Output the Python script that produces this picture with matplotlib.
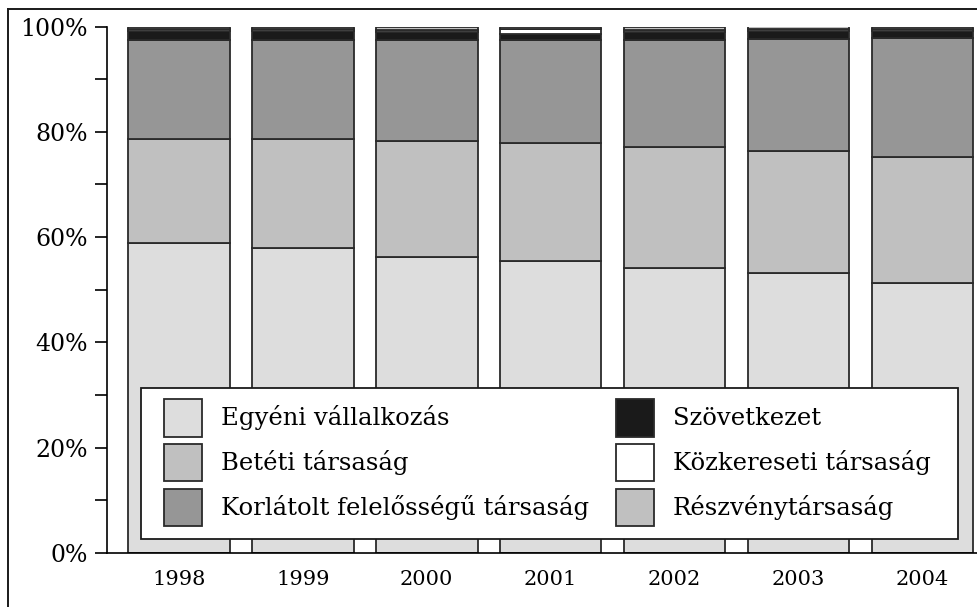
import matplotlib.pyplot as plt
from matplotlib.lines import Line2D
from matplotlib.patches import Rectangle
from matplotlib.ticker import MultipleLocator, FuncFormatter

years = ["1998", "1999", "2000", "2001", "2002", "2003", "2004"]
egyeni = [58.9, 58.0, 56.3, 55.5, 54.2, 53.2, 51.3]
beteti = [19.8, 20.7, 22.0, 22.4, 23.0, 23.2, 24.0]
korlatolt = [18.7, 18.7, 19.1, 19.5, 20.2, 21.2, 22.5]
szovetkezet = [1.8, 1.8, 1.5, 1.1, 1.5, 1.5, 1.4]
kozkereseti = [0.3, 0.3, 0.5, 1.0, 0.5, 0.4, 0.3]
reszveny = [0.5, 0.5, 0.6, 0.5, 0.6, 0.5, 0.5]

series = [
    ("Egyéni vállalkozás", egyeni, "#dddddd"),
    ("Betéti társaság", beteti, "#c0c0c0"),
    ("Korlátolt felelősségű társaság", korlatolt, "#969696"),
    ("Szövetkezet", szovetkezet, "#1a1a1a"),
    ("Közkereseti társaság", kozkereseti, "#ffffff"),
    ("Részvénytársaság", reszveny, "#c0c0c0"),
]

plt.rcParams["font.family"] = ["DejaVu Serif"]
plt.rcParams["font.size"] = 14

W, H = 977, 607
fig = plt.figure(figsize=(W / 100, H / 100), dpi=100)
ax = fig.add_axes([107 / W, 1 - 553 / H, 870 / W, (553 - 26.5) / H])

x = range(len(years))
bottom = [0.0] * len(years)
for label, vals, color in series:
    ax.bar(x, vals, bottom=bottom, width=0.82, color=color,
           edgecolor="#2a2a2a", linewidth=1.3, label=label)
    bottom = [b + v for b, v in zip(bottom, vals)]

ax.set_xlim(-0.58, 6.44)
ax.set_ylim(0, 100)
ax.set_xticks(list(x))
ax.set_xticklabels(years, fontsize=15)
ax.tick_params(axis="x", length=0, pad=12)
ax.yaxis.set_major_locator(MultipleLocator(20))
ax.yaxis.set_minor_locator(MultipleLocator(10))
ax.yaxis.set_major_formatter(FuncFormatter(lambda v, p: f"{v:.0f}%"))
ax.tick_params(axis="y", which="both", length=9, width=1.2, direction="out", pad=5, labelsize=17)
for s in ["top", "right"]:
    ax.spines[s].set_visible(False)
ax.spines["left"].set_linewidth(1.2)
ax.spines["bottom"].set_linewidth(1.2)

# legend box frame drawn separately so its size matches
ax_w, ax_h = 870, 553 - 26.5
x0, x1 = (141 - 107) / ax_w, (958 - 107) / ax_w
y0, y1 = (553 - 539) / ax_h, (553 - 388) / ax_h
ax.add_patch(Rectangle((x0, y0), x1 - x0, y1 - y0, transform=ax.transAxes,
                       facecolor="white", edgecolor="#1a1a1a", linewidth=1.3, zorder=4))

leg = ax.legend(ncol=2, loc="upper left",
                bbox_to_anchor=((164 - 107) / ax_w, (553 - 399) / ax_h),
                frameon=False, handlelength=1.56, handleheight=2.0, fontsize=17.5,
                borderpad=0, borderaxespad=0, labelspacing=0.3, handletextpad=0.78,
                columnspacing=1.1)
leg.set_zorder(5)
for h in leg.legend_handles:
    h.set_linewidth(1.3)

# outer frame around the figure (left and top edges visible)
top = 1 - 8.5 / H
fig.add_artist(Line2D([8 / W, 8 / W], [0, top], transform=fig.transFigure,
                      color="#1a1a1a", linewidth=1.4, clip_on=False, zorder=10))
fig.add_artist(Line2D([8 / W, 1], [top, top], transform=fig.transFigure,
                      color="#1a1a1a", linewidth=1.4, clip_on=False, zorder=10))

plt.savefig("out.png", dpi=100)
